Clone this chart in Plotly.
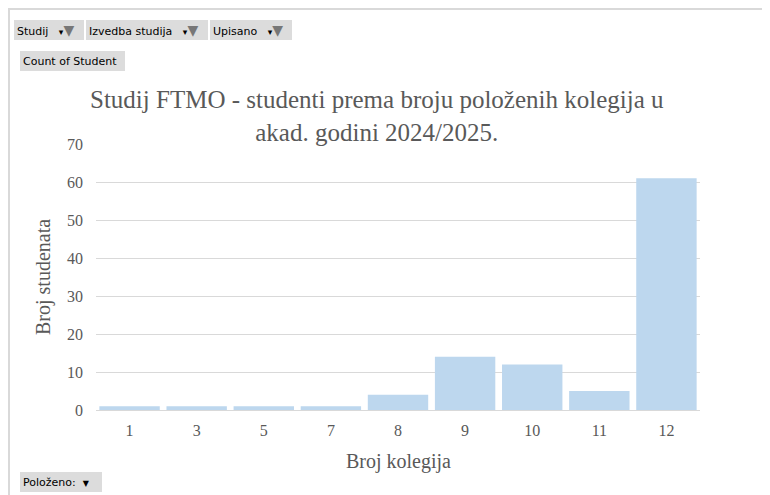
import plotly.graph_objects as go

categories = ["1", "3", "5", "7", "8", "9", "10", "11", "12"]
counts = [1, 1, 1, 1, 4, 14, 12, 5, 61]
y_ticks = [0, 10, 20, 30, 40, 50, 60, 70]

# page body has an 8px margin, so figure pixel = screen pixel - 8
OFF = 8
W, H = 770 - OFF, 495 - OFF
L, R, T, B = 96 - OFF, 700 - OFF, 144 - OFF, 410 - OFF

def px(x):
    return (x - OFF - L) / (R - L)

def py(y):
    return (B - (y - OFF)) / (B - T)

fig = go.Figure(go.Bar(
    x=categories, y=counts,
    marker=dict(color="#bdd7ee", line=dict(width=0)),
    hoverinfo="x+y",
))

serif = "Liberation Serif, Times New Roman, serif"
sans = "DejaVu Sans, Tahoma, sans-serif"

annotations = [
    dict(text="Studij FTMO - studenti prema broju položenih kolegija u<br>akad. godini 2024/2025.",
         x=px(377), y=py(116), xref="paper", yref="paper", showarrow=False,
         font=dict(family=serif, size=25, color="#595959"), align="center",
         xanchor="center", yanchor="middle"),
    dict(text="Broj kolegija", x=px(398), y=py(461), xref="paper", yref="paper",
         showarrow=False, font=dict(family=serif, size=20, color="#595959"),
         xanchor="center", yanchor="middle"),
    dict(text="Broj studenata", x=px(43), y=py(277), xref="paper", yref="paper",
         showarrow=False, font=dict(family=serif, size=20, color="#595959"),
         textangle=-90, xanchor="center", yanchor="middle"),
]

shapes = [
    dict(type="line", xref="paper", yref="paper", x0=px(8), x1=px(770), y0=py(9), y1=py(9),
         line=dict(color="#d9d9d9", width=2)),
    dict(type="line", xref="paper", yref="paper", x0=px(9), x1=px(9), y0=py(8), y1=py(495),
         line=dict(color="#d9d9d9", width=2)),
]

funnel = "<span style='font-size:9px'>▾</span><span style='color:#777777;font-size:14px'>▼</span>"
btns = [
    ("Studij &nbsp;&nbsp;" + funnel, 14, 84, 20, 40),
    ("Izvedba studija &nbsp;&nbsp;" + funnel, 86, 208, 20, 40),
    ("Upisano &nbsp;&nbsp;" + funnel, 210, 292, 20, 40),
    ("Count of Student", 20, 125, 51, 71),
    ("Položeno: &nbsp;<span style='font-size:8px'>▼</span>", 20, 102, 472, 492),
]
for text, x0, x1, y0, y1 in btns:
    shapes.append(dict(type="rect", xref="paper", yref="paper", x0=px(x0), x1=px(x1),
                       y0=py(y0), y1=py(y1), fillcolor="#dcdcdc", line=dict(width=0),
                       layer="below"))
    annotations.append(dict(text=text, x=px(x0 + 1), y=py((y0 + y1) / 2), xref="paper", yref="paper",
                            showarrow=False, xanchor="left", yanchor="middle",
                            font=dict(family=sans, size=11, color="#000000")))

fig.update_layout(
    width=W, height=H,
    margin=dict(l=L, r=W - R, t=T, b=H - B, pad=0),
    paper_bgcolor="white", plot_bgcolor="white",
    bargap=0.1,
    showlegend=False,
    xaxis=dict(type="category", showgrid=False, showline=True, linecolor="#d9d9d9", linewidth=1,
               ticks="", ticklabelstandoff=6,
               tickfont=dict(family=serif, size=16, color="#595959"), fixedrange=True),
    yaxis=dict(range=[0, 70], tickvals=y_ticks, showgrid=True, gridcolor="#d9d9d9", gridwidth=1,
               zeroline=False, showline=False, ticks="", ticklabelstandoff=12,
               tickfont=dict(family=serif, size=16, color="#595959"), fixedrange=True),
    annotations=annotations,
    shapes=shapes,
)

fig.write_html("out.html")
